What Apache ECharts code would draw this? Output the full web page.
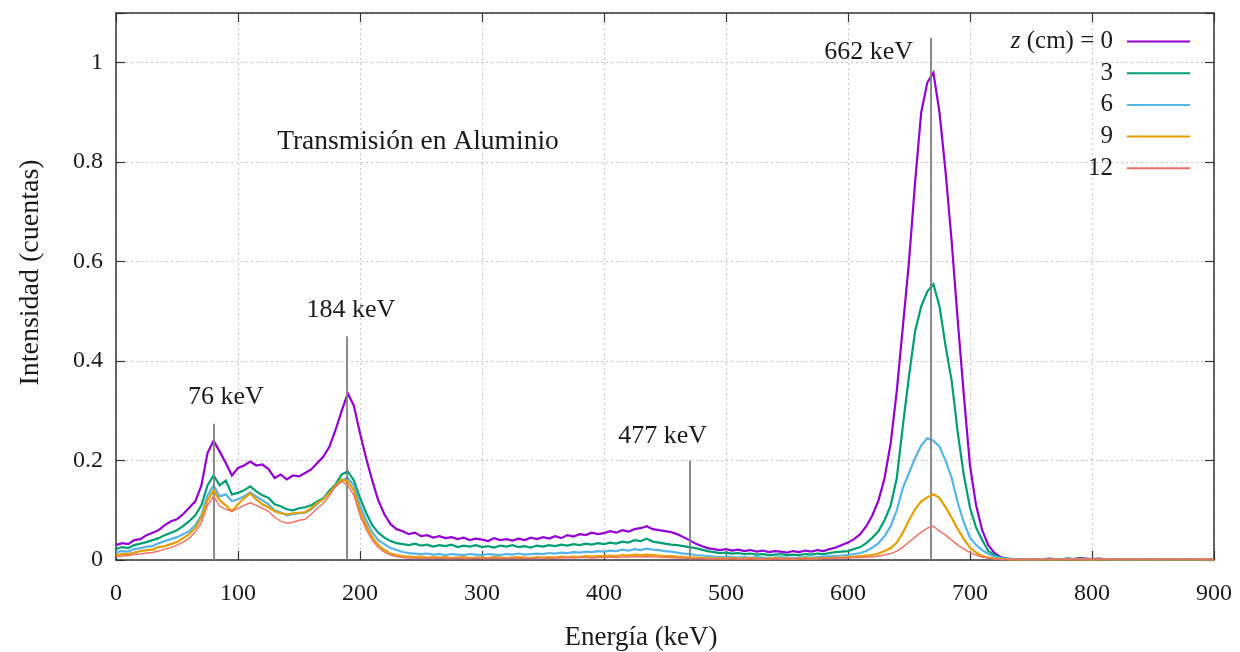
<!DOCTYPE html>
<html>
<head>
<meta charset="utf-8">
<title>Transmisión en Aluminio</title>
<script src="https://cdn.jsdelivr.net/npm/echarts@6/dist/echarts.min.js"></script>
<style>
  html, body { margin: 0; padding: 0; background: #ffffff; }
  #chart { width: 1240px; height: 652px; }
</style>
</head>
<body>
<div id="chart"></div>
<script>
// Gamma spectra behind aluminium absorbers, 5 keV bins from 0 to 900 keV
const binWidth = 5;

const z0 = [
  0.030,0.034,0.032,0.040,0.042,0.050,0.055,0.060,0.070,0.078,0.082,0.092,0.105,0.118,0.150,0.215,0.240,0.218,0.195,0.170,
  0.185,0.190,0.198,0.190,0.192,0.183,0.165,0.172,0.162,0.170,0.168,0.175,0.182,0.195,0.208,0.228,0.262,0.300,0.335,0.310,
  0.255,0.205,0.160,0.120,0.092,0.072,0.062,0.058,0.052,0.055,0.048,0.050,0.045,0.048,0.044,0.046,0.042,0.045,0.040,0.043,
  0.041,0.038,0.044,0.040,0.042,0.039,0.043,0.040,0.045,0.042,0.046,0.043,0.048,0.044,0.050,0.047,0.052,0.050,0.055,0.052,
  0.054,0.058,0.055,0.060,0.057,0.062,0.064,0.068,0.062,0.060,0.058,0.056,0.052,0.046,0.040,0.033,0.028,0.024,0.022,0.020,
  0.022,0.019,0.021,0.018,0.020,0.017,0.019,0.016,0.018,0.017,0.015,0.018,0.016,0.019,0.017,0.020,0.018,0.022,0.025,0.030,
  0.035,0.042,0.052,0.068,0.090,0.120,0.165,0.235,0.340,0.470,0.600,0.760,0.900,0.960,0.980,0.900,0.780,0.640,0.480,0.330,
  0.190,0.110,0.060,0.030,0.014,0.006,0.003,0.002,0.002,0.001,0.002,0.001,0.002,0.003,0.002,0.001,0.003,0.002,0.004,0.003,
  0.002,0.003,0.002,0.001,0.002,0.001,0.002,0.001,0.001,0.002,0.001,0.001,0.002,0.001,0.001,0.001,0.002,0.001,0.001,0.001,
  0.001
];

const z3 = [
  0.022,0.026,0.024,0.030,0.033,0.036,0.040,0.044,0.050,0.055,0.060,0.068,0.078,0.090,0.110,0.150,0.170,0.150,0.160,0.132,
  0.135,0.140,0.148,0.138,0.130,0.125,0.112,0.108,0.102,0.100,0.104,0.106,0.110,0.118,0.125,0.140,0.152,0.172,0.178,0.160,
  0.125,0.095,0.070,0.055,0.045,0.038,0.034,0.032,0.030,0.033,0.029,0.031,0.027,0.030,0.028,0.031,0.026,0.029,0.027,0.030,
  0.026,0.028,0.025,0.029,0.027,0.030,0.026,0.028,0.025,0.029,0.027,0.030,0.028,0.031,0.029,0.032,0.030,0.033,0.031,0.034,
  0.032,0.035,0.033,0.037,0.035,0.040,0.038,0.043,0.037,0.035,0.033,0.031,0.030,0.028,0.026,0.024,0.021,0.018,0.016,0.014,
  0.015,0.013,0.014,0.012,0.013,0.011,0.012,0.010,0.011,0.012,0.010,0.011,0.010,0.012,0.011,0.013,0.012,0.014,0.016,0.017,
  0.018,0.022,0.026,0.034,0.045,0.058,0.080,0.110,0.165,0.270,0.370,0.460,0.510,0.540,0.555,0.510,0.430,0.360,0.255,0.170,
  0.105,0.065,0.040,0.018,0.010,0.005,0.003,0.002,0.002,0.001,0.002,0.001,0.002,0.002,0.001,0.002,0.003,0.002,0.003,0.002,
  0.002,0.002,0.001,0.002,0.001,0.001,0.002,0.001,0.001,0.001,0.001,0.002,0.001,0.001,0.001,0.001,0.001,0.001,0.001,0.001,
  0.001
];

const z6 = [
  0.016,0.018,0.017,0.022,0.024,0.027,0.028,0.034,0.038,0.042,0.046,0.052,0.058,0.070,0.090,0.130,0.150,0.128,0.132,0.118,
  0.122,0.128,0.136,0.128,0.120,0.112,0.100,0.096,0.090,0.092,0.094,0.095,0.102,0.112,0.125,0.135,0.148,0.160,0.165,0.150,
  0.110,0.080,0.056,0.040,0.032,0.024,0.020,0.016,0.014,0.013,0.012,0.013,0.011,0.012,0.010,0.012,0.011,0.010,0.012,0.011,
  0.010,0.012,0.011,0.010,0.012,0.011,0.013,0.011,0.012,0.013,0.012,0.014,0.013,0.015,0.014,0.016,0.015,0.017,0.016,0.018,
  0.017,0.019,0.018,0.021,0.019,0.022,0.020,0.023,0.021,0.020,0.018,0.017,0.015,0.013,0.012,0.010,0.009,0.008,0.007,0.006,
  0.007,0.006,0.005,0.006,0.005,0.006,0.005,0.004,0.005,0.006,0.005,0.004,0.005,0.006,0.005,0.006,0.007,0.008,0.008,0.009,
  0.010,0.012,0.014,0.018,0.025,0.034,0.048,0.068,0.100,0.145,0.175,0.205,0.230,0.245,0.240,0.228,0.200,0.165,0.115,0.075,
  0.045,0.030,0.020,0.012,0.007,0.004,0.002,0.002,0.001,0.002,0.001,0.001,0.002,0.001,0.002,0.001,0.002,0.002,0.001,0.002,
  0.001,0.001,0.002,0.001,0.001,0.001,0.001,0.001,0.001,0.001,0.001,0.001,0.001,0.001,0.001,0.001,0.001,0.001,0.001,0.001,
  0.001
];

const z9 = [
  0.010,0.012,0.012,0.015,0.018,0.020,0.021,0.026,0.028,0.032,0.036,0.044,0.052,0.064,0.085,0.120,0.140,0.120,0.110,0.098,
  0.112,0.124,0.134,0.122,0.112,0.106,0.098,0.094,0.092,0.094,0.095,0.096,0.104,0.115,0.122,0.135,0.150,0.162,0.158,0.140,
  0.098,0.070,0.046,0.030,0.020,0.013,0.010,0.008,0.007,0.006,0.007,0.005,0.006,0.005,0.006,0.004,0.005,0.006,0.004,0.005,
  0.005,0.004,0.006,0.005,0.004,0.005,0.006,0.005,0.004,0.006,0.005,0.006,0.005,0.007,0.006,0.007,0.006,0.008,0.007,0.008,
  0.008,0.009,0.008,0.010,0.009,0.011,0.010,0.011,0.010,0.009,0.008,0.008,0.007,0.006,0.005,0.005,0.004,0.004,0.003,0.004,
  0.003,0.004,0.003,0.003,0.004,0.003,0.002,0.003,0.004,0.003,0.003,0.002,0.003,0.004,0.003,0.003,0.004,0.004,0.005,0.005,
  0.006,0.007,0.008,0.009,0.010,0.013,0.018,0.024,0.035,0.055,0.080,0.102,0.118,0.126,0.132,0.125,0.106,0.085,0.062,0.042,
  0.025,0.015,0.008,0.005,0.003,0.002,0.001,0.001,0.001,0.001,0.001,0.001,0.001,0.001,0.001,0.001,0.001,0.001,0.001,0.001,
  0.001,0.001,0.001,0.001,0.001,0.001,0.001,0.001,0.001,0.001,0.001,0.001,0.001,0.001,0.001,0.001,0.001,0.001,0.001,0.001,
  0.001
];

const z12 = [
  0.007,0.008,0.009,0.011,0.012,0.014,0.015,0.018,0.022,0.025,0.030,0.036,0.044,0.056,0.075,0.110,0.128,0.108,0.102,0.098,
  0.104,0.110,0.115,0.110,0.104,0.098,0.086,0.078,0.074,0.076,0.080,0.082,0.092,0.104,0.114,0.130,0.148,0.158,0.150,0.130,
  0.090,0.062,0.040,0.025,0.016,0.010,0.007,0.005,0.004,0.004,0.003,0.004,0.003,0.004,0.003,0.003,0.004,0.003,0.003,0.004,
  0.003,0.003,0.004,0.003,0.003,0.004,0.003,0.004,0.003,0.004,0.004,0.003,0.004,0.004,0.005,0.004,0.005,0.005,0.004,0.005,
  0.005,0.006,0.005,0.006,0.006,0.007,0.006,0.007,0.006,0.006,0.005,0.005,0.004,0.004,0.003,0.003,0.003,0.002,0.003,0.002,
  0.002,0.003,0.002,0.002,0.003,0.002,0.002,0.002,0.003,0.002,0.002,0.002,0.003,0.002,0.002,0.003,0.003,0.003,0.004,0.004,
  0.004,0.005,0.005,0.006,0.006,0.008,0.010,0.013,0.018,0.026,0.036,0.046,0.056,0.064,0.068,0.058,0.050,0.040,0.030,0.022,
  0.015,0.010,0.006,0.004,0.002,0.001,0.001,0.001,0.001,0.001,0.001,0.001,0.001,0.001,0.001,0.001,0.001,0.001,0.001,0.001,
  0.001,0.001,0.001,0.001,0.001,0.001,0.001,0.001,0.001,0.001,0.001,0.001,0.001,0.001,0.001,0.001,0.001,0.001,0.001,0.001,
  0.001
];

// Absorber thicknesses (cm) and their curve colours
const thickness = ['0', '3', '6', '9', '12'];
const spectra = [z0, z3, z6, z9, z12];
const colors = ['#9400d3', '#009e73', '#56b4e9', '#e69f00', '#ef6f62'];
const widths = [2.2, 2.2, 2.2, 2.2, 1.4];

// Reference energy lines: drawn position, height, caption and caption anchor
const lineEnergy = [80.5, 189, 470.5, 668];
const lineHeight = [0.274, 0.45, 0.2, 1.05];
const lineCaption = ['76 keV', '184 keV', '477 keV', '662 keV'];
const captionAt = [[90, 0.328], [192.5, 0.502], [448, 0.25], [617, 1.022]];

const xTicks = [0, 100, 200, 300, 400, 500, 600, 700, 800, 900];
const yTicks = [0, 0.2, 0.4, 0.6, 0.8, 1];

const FONT = '"Liberation Serif", "DejaVu Serif", serif';
const INK = '#1a1a1a';
const FRAME = '#333333';

const energy = z0.map((_, i) => i * binWidth);

const series = spectra.map((vals, k) => ({
  name: thickness[k],
  type: 'line',
  showSymbol: false,
  symbol: 'none',
  animation: false,
  data: vals.map((v, i) => [energy[i], v]),
  lineStyle: { color: colors[k], width: widths[k], join: 'miter' },
  itemStyle: { color: colors[k] },
  z: 2 + k
}));

// Grey reference lines with their captions
series.push({
  name: 'ref',
  type: 'line',
  data: [],
  animation: false,
  z: 10,
  markLine: {
    silent: true,
    symbol: ['none', 'none'],
    animation: false,
    label: { show: false },
    lineStyle: { color: '#7f7f7f', width: 1.8, type: 'solid' },
    data: lineEnergy.map((e, i) => [{ coord: [e, 0] }, { coord: [e, lineHeight[i]] }])
  },
  markPoint: {
    silent: true,
    symbol: 'circle',
    symbolSize: 0,
    animation: false,
    label: {
      show: true,
      position: 'inside',
      color: INK,
      fontFamily: FONT,
      fontSize: 26
    },
    data: lineCaption.map((t, i) => ({
      coord: captionAt[i],
      value: t,
      label: { formatter: t }
    })).concat([{
      coord: [247.5, 0.841],
      value: 0,
      label: { formatter: 'Transmisión en Aluminio', fontSize: 27.5 }
    }])
  }
});

function ticks() {
  return { show: true, inside: true, length: 9, lineStyle: { color: FRAME, width: 1.2 } };
}
function frameLine() {
  return { show: true, onZero: false, lineStyle: { color: FRAME, width: 1.5 } };
}
const gridLine = { show: true, lineStyle: { color: '#c4c4c4', width: 1, type: [2, 3] } };

const option = {
  backgroundColor: '#ffffff',
  animation: false,
  grid: {
    left: 116, right: 26, top: 13, bottom: 92,
    show: false,
    containLabel: false,
    outerBoundsMode: 'none'
  },
  legend: {
    data: thickness,
    orient: 'vertical',
    align: 'right',
    right: 45,
    top: 24,
    icon: 'rect',
    itemWidth: 63,
    itemHeight: 2,
    itemGap: 6.7,
    formatter: (name) => name === '0' ? '{i|z} (cm) = 0' : name,
    textStyle: {
      color: INK,
      fontFamily: FONT,
      fontSize: 25,
      lineHeight: 24,
      padding: [0, 9, 0, 0],
      rich: {
        i: { fontStyle: 'italic', fontFamily: FONT, fontSize: 25, color: INK }
      }
    },
    selectedMode: false
  },
  xAxis: [{
    type: 'value',
    position: 'bottom',
    min: 0, max: 900, interval: 100,
    name: 'Energía (keV)',
    nameLocation: 'middle',
    nameGap: 64,
    nameTextStyle: { color: INK, fontFamily: FONT, fontSize: 27, padding: [0, 48, 0, 0] },
    axisLine: frameLine(),
    axisTick: ticks(),
    axisLabel: {
      color: INK, fontFamily: FONT, fontSize: 24, margin: 22,
      formatter: (v) => xTicks.includes(v) ? String(v) : ''
    },
    splitLine: gridLine
  }, {
    type: 'value',
    position: 'top',
    min: 0, max: 900, interval: 100,
    axisLine: frameLine(),
    axisTick: ticks(),
    axisLabel: { show: false },
    splitLine: { show: false }
  }],
  yAxis: [{
    type: 'value',
    position: 'left',
    min: 0, max: 1.1, interval: 0.2,
    name: 'Intensidad (cuentas)',
    nameLocation: 'middle',
    nameGap: 71,
    nameTextStyle: { color: INK, fontFamily: FONT, fontSize: 28, padding: [0, 0, 0, 28] },
    axisLine: frameLine(),
    axisTick: ticks(),
    axisLabel: {
      color: INK, fontFamily: FONT, fontSize: 24, margin: 13,
      formatter: (v) => {
        const r = +v.toFixed(1);
        return yTicks.includes(r) && Math.abs(r - v) < 1e-6 ? String(r) : '';
      }
    },
    splitLine: gridLine
  }, {
    type: 'value',
    position: 'right',
    min: 0, max: 1.1, interval: 0.2,
    axisLine: frameLine(),
    axisTick: ticks(),
    axisLabel: { show: false },
    splitLine: { show: false }
  }],
  series: series
};

const chart = echarts.init(document.getElementById('chart'), null, { renderer: 'canvas' });
chart.setOption(option);
</script>
</body>
</html>
